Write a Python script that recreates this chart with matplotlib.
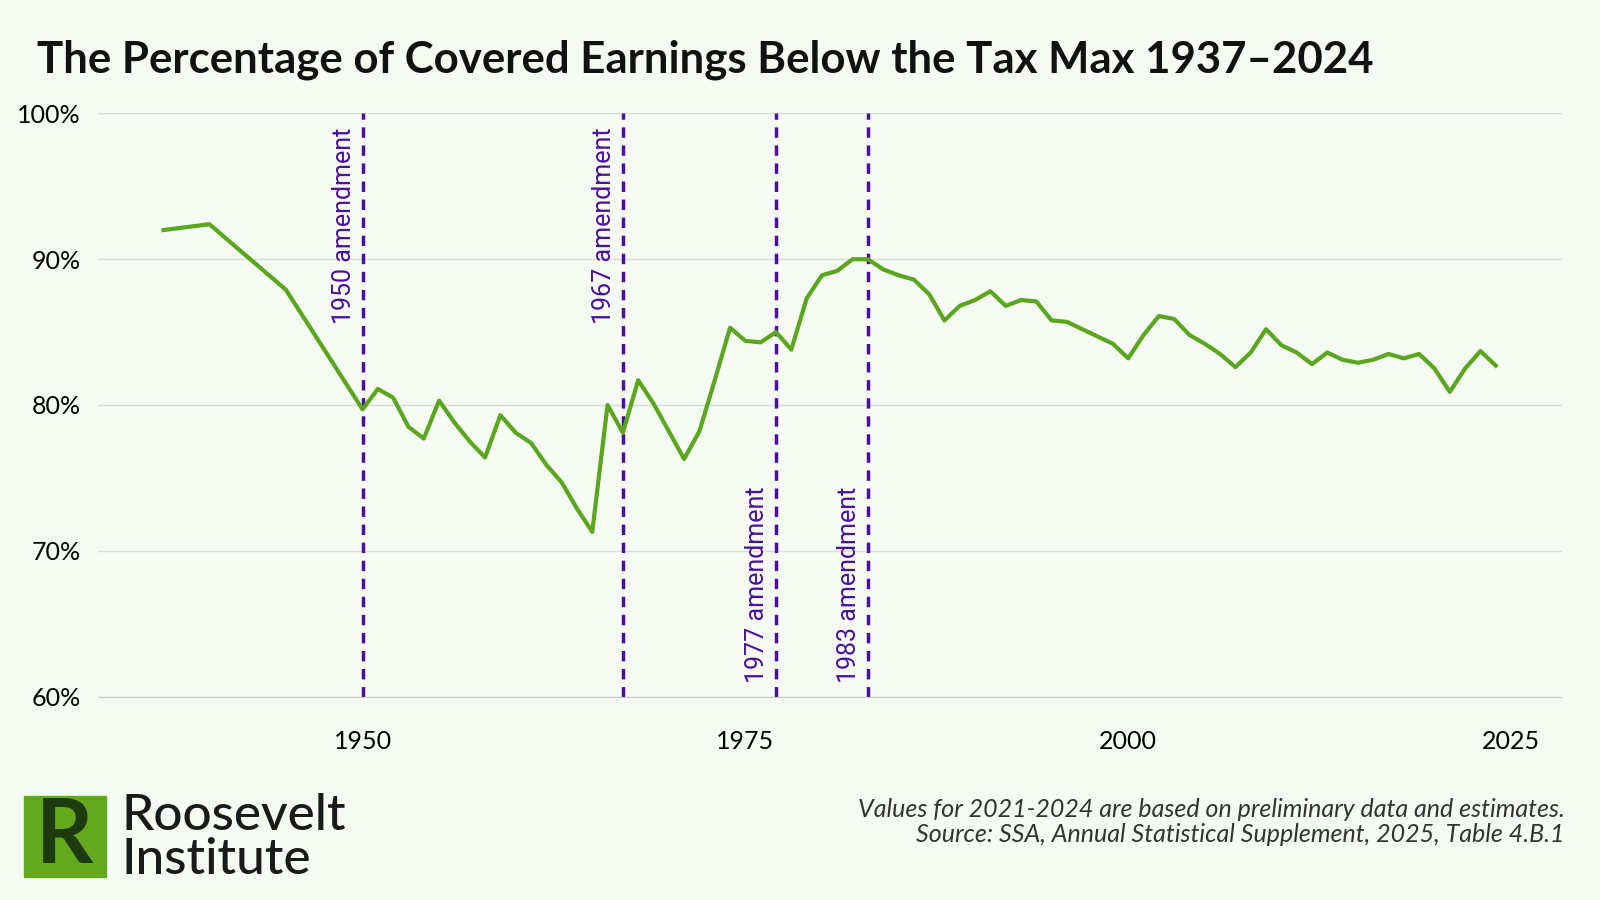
import matplotlib
matplotlib.use("Agg")
import matplotlib.pyplot as plt
from matplotlib.patches import Rectangle

years = [1937,1940,1945,1950,1951,1952,1953,1954,1955,1956,1957,1958,1959,1960,1961,1962,1963,1964,1965,1966,1967,1968,1969,1970,1971,1972,1973,1974,1975,1976,1977,1978,1979,1980,1981,1982,1983,1984,1985,1986,1987,1988,1989,1990,1991,1992,1993,1994,1995,1996,1997,1998,1999,2000,2001,2002,2003,2004,2005,2006,2007,2008,2009,2010,2011,2012,2013,2014,2015,2016,2017,2018,2019,2020,2021,2022,2023,2024]
pct = [92.0,92.4,87.9,79.7,81.1,80.5,78.5,77.7,80.3,78.8,77.5,76.4,79.3,78.1,77.4,75.9,74.7,72.9,71.3,80.0,78.1,81.7,80.1,78.2,76.3,78.2,81.7,85.3,84.4,84.3,85.0,83.8,87.3,88.9,89.2,90.0,90.0,89.3,88.9,88.6,87.6,85.8,86.8,87.2,87.8,86.8,87.2,87.1,85.8,85.7,85.2,84.7,84.2,83.2,84.8,86.1,85.9,84.8,84.2,83.5,82.6,83.6,85.2,84.1,83.6,82.8,83.6,83.1,82.9,83.1,83.5,83.2,83.5,82.5,80.9,82.5,83.7,82.7]
amend_years = [1950,1967,1977,1983]
amend_labels = ["1950 amendment","1967 amendment","1977 amendment","1983 amendment"]
amend_pos = ["top","top","bottom","bottom"]
yticks = [60,70,80,90,100]
xticks = [1950,1975,2000,2025]

bg = "#f5faf3"
fig = plt.figure(figsize=(16,9), dpi=100, facecolor=bg)
ax = fig.add_axes([0.061,0.226,0.915,0.648], facecolor=bg)
ax.plot(years, pct, color="#5aa61e", lw=3, zorder=3)
for y, lab, pos in zip(amend_years, amend_labels, amend_pos):
    ax.axvline(y, color="#4b0fa0", lw=2.5, ls=(0,(3,2.2)), zorder=2)
    if pos == "top":
        ax.text(y-0.45, 99, lab, rotation=90, ha="right", va="top", color="#4b0fa0", fontsize=18, family="Roboto")
    else:
        ax.text(y-0.45, 60.9, lab, rotation=90, ha="right", va="bottom", color="#4b0fa0", fontsize=18, family="Roboto")
ax.set_xlim(1932.7, 2028.3)
ax.set_ylim(60, 100)
ax.set_yticks(yticks)
ax.set_yticklabels([f"{t}%" for t in yticks], family="Lato", fontsize=18)
ax.set_xticks(xticks)
ax.set_xticklabels([str(t) for t in xticks], family="Lato", fontsize=18)
ax.grid(axis="y", color="#d9ddd7", lw=1)
ax.set_axisbelow(True)
for s in ["top","right","left"]:
    ax.spines[s].set_visible(False)
ax.spines["bottom"].set_color("#c8ccc6")
ax.tick_params(length=0, pad=12)
ax.tick_params(axis="x", pad=24)
fig.text(0.023, 0.934, "The Percentage of Covered Earnings Below the Tax Max 1937\u20132024",
         family="Lato", fontweight="bold", fontsize=31.5, va="center", color="#111")
fig.text(0.978, 0.101, "Values for 2021-2024 are based on preliminary data and estimates.",
         ha="right", va="center", fontsize=18, style="italic", family="Lato", color="#333")
fig.text(0.978, 0.073, "Source: SSA, Annual Statistical Supplement, 2025, Table 4.B.1",
         ha="right", va="center", fontsize=18, style="italic", family="Lato", color="#333")
# logo
fig.patches.append(Rectangle((0.015,0.026),0.051,0.090, transform=fig.transFigure, color="#64a81e"))
fig.text(0.0405, 0.070, "R", ha="center", va="center", fontsize=64, fontweight="bold", family="Lato", color="#1d3b0e")
fig.text(0.076, 0.093, "Roosevelt", va="center", fontsize=37, family="Lato", fontweight="medium", color="#1a1a1a")
fig.text(0.076, 0.044, "Institute", va="center", fontsize=37, family="Lato", fontweight="medium", color="#1a1a1a")
fig.savefig("out.png", dpi=100, facecolor=bg)
